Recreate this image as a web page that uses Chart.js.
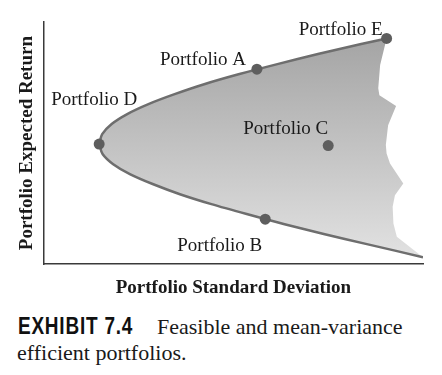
<!DOCTYPE html>
<html>
<head>
<meta charset="utf-8">
<script src="https://cdn.jsdelivr.net/npm/chart.js@4.4.1/dist/chart.umd.min.js"></script>
<style>
  body { margin: 0; background: #fff; width: 442px; height: 375px; overflow: hidden; position: relative; }
  #wrap { position: absolute; left: 0; top: 0; width: 442px; height: 300px; }
  .cap { position: absolute; font-family: 'Liberation Serif', 'DejaVu Serif', serif; font-size: 22px; line-height: 26px; color: #1a1a1a; white-space: nowrap; }
  .ex { display: inline-block; font-family: 'Liberation Sans', Arial, sans-serif; font-weight: bold; font-size: 24px; letter-spacing: 1px; transform: scaleX(0.79); transform-origin: 0 0; color: #111; }
</style>
</head>
<body>
<div id="wrap"><canvas id="myChart"></canvas></div>
<div class="cap" style="left:18px; top:313px;"><span class="ex">EXHIBIT 7.4</span></div>
<div class="cap" style="left:157px; top:314px;">Feasible and mean-variance</div>
<div class="cap" style="left:17px; top:340px;">efficient portfolios.</div>
<script>
// frontier (x = std deviation, y = expected return, both 0..100)
var upperX = [14.6, 15.4, 17.9, 22.0, 27.6, 34.5, 42.5, 51.6, 61.6, 72.3, 83.7, 90.4];
var upperY = [49.6, 53.7, 57.9, 62.0, 66.1, 70.2, 74.4, 78.5, 82.6, 86.8, 90.9, 93.2];
var lowerX = [14.6, 15.5, 18.3, 22.7, 28.7, 35.9, 44.2, 53.5, 63.5, 74.1, 85.2, 100.0];
var lowerY = [49.6, 45.5, 41.3, 37.2, 33.1, 28.9, 24.8, 20.7, 16.5, 12.4, 8.3, 2.9];
// ragged right edge of the feasible set, from E down to the bottom end
var edgeX = [90.4, 88.7, 88.2, 88.5, 92.9, 90.8, 90.2, 90.4, 91.3, 94.8, 92.6, 92.0, 92.2, 93.1, 100.0];
var edgeY = [93.2, 82.2, 72.6, 69.8, 65.3, 57.4, 49.2, 45.7, 41.6, 33.3, 28.5, 23.7, 16.8, 11.3, 2.9];

var names = ["Portfolio A", "Portfolio B", "Portfolio C", "Portfolio D", "Portfolio E"];
var portX = [56.2, 58.4, 75.0, 14.6, 90.4];
var portY = [80.5, 18.6, 49.0, 49.6, 93.2];

function pts(xs, ys) {
    return xs.map(function (x, i) { return {x: x, y: ys[i]}; });
}

// closed outline of the feasible region
var shape = pts(upperX, upperY)
    .concat(pts(edgeX, edgeY).slice(1))
    .concat(pts(lowerX, lowerY).reverse().slice(1));

// label offsets from each point (px), text baseline
var labelPos = {
    "Portfolio A": {dx: -11, dy: -4, align: "right"},
    "Portfolio B": {dx: -3, dy: 32, align: "right"},
    "Portfolio C": {dx: 0, dy: -12, align: "right"},
    "Portfolio D": {dx: -48, dy: -39, align: "left"},
    "Portfolio E": {dx: -4, dy: -3, align: "right"}
};

var labelPlugin = {
    id: "portLabels",
    afterDatasetsDraw: function (chart) {
        var c = chart.ctx;
        var xs = chart.scales.x, ys = chart.scales.y;
        c.save();
        c.font = "19px 'Liberation Serif'";
        c.fillStyle = "#1a1a1a";
        c.textBaseline = "alphabetic";
        names.forEach(function (n, i) {
            var p = labelPos[n];
            c.textAlign = p.align;
            c.fillText(n, xs.getPixelForValue(portX[i]) + p.dx, ys.getPixelForValue(portY[i]) + p.dy);
        });
        c.restore();
    }
};

var ctx = document.getElementById("myChart");
var myChart = new Chart(ctx, {
    type: 'line',
    data: {
        datasets: [
            {
                label: "points",
                data: pts(portX, portY),
                showLine: false,
                pointRadius: 5.5,
                pointBackgroundColor: "#5e5e5e",
                pointBorderWidth: 0
            },
            {
                label: "upper",
                data: pts(upperX, upperY),
                borderColor: "#6e6e6e",
                borderWidth: 2.5,
                pointRadius: 0,
                tension: 0.3,
                fill: false
            },
            {
                label: "lower",
                data: pts(lowerX, lowerY),
                borderColor: "#6e6e6e",
                borderWidth: 2.5,
                pointRadius: 0,
                tension: 0.3,
                fill: false
            },
            {
                label: "feasible",
                data: shape,
                borderWidth: 0,
                borderColor: "rgba(0,0,0,0)",
                pointRadius: 0,
                tension: 0,
                fill: 'shape',
                backgroundColor: function (context) {
                    var area = context.chart.chartArea;
                    if (!area) return "#c0c0c0";
                    var g = context.chart.ctx.createLinearGradient(0, area.top + 15, 0, area.bottom - 5);
                    g.addColorStop(0, "#a4a4a4");
                    g.addColorStop(1, "#e2e2e2");
                    return g;
                }
            }
        ]
    },
    options: {
        responsive: true,
        maintainAspectRatio: false,
        animation: false,
        layout: {padding: {left: 14, top: 22, right: 19, bottom: 1}},
        plugins: {legend: {display: false}, tooltip: {enabled: false}},
        scales: {
            x: {
                type: 'linear',
                min: 0,
                max: 100,
                grid: {display: false, drawTicks: false},
                ticks: {display: false},
                border: {display: true, color: "#3a3a3a", width: 1.5},
                title: {
                    display: true,
                    text: "Portfolio Standard Deviation",
                    color: "#1a1a1a",
                    font: {family: "Liberation Serif", size: 19, weight: "bold"},
                    padding: {top: 12, bottom: 0}
                }
            },
            y: {
                type: 'linear',
                min: 0,
                max: 100,
                grid: {display: false, drawTicks: false},
                ticks: {display: false},
                border: {display: true, color: "#3a3a3a", width: 1.5},
                title: {
                    display: true,
                    text: "Portfolio Expected Return",
                    color: "#1a1a1a",
                    font: {family: "Liberation Serif", size: 19, weight: "bold"},
                    padding: {top: 2, bottom: 5}
                }
            }
        }
    },
    plugins: [labelPlugin]
});
</script>
</body>
</html>
